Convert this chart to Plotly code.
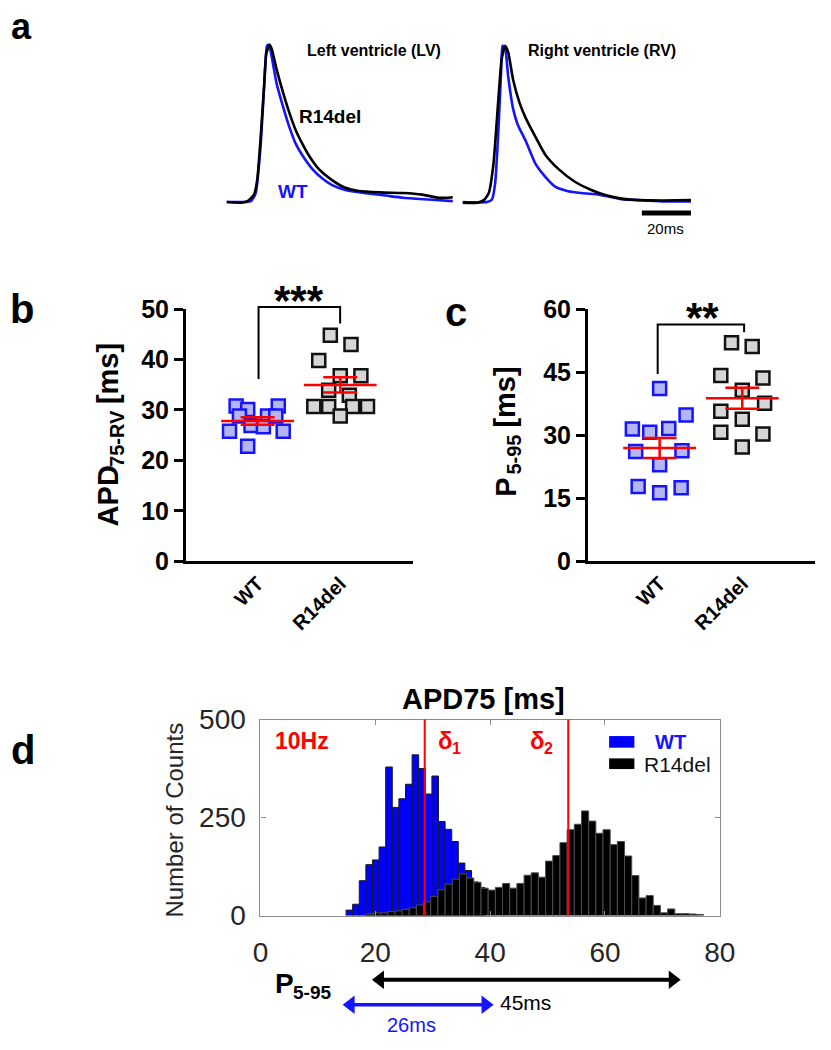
import numpy as np
import plotly.graph_objects as go

W, H = 831, 1050
F = "Liberation Sans"
BLUE = "#1414ff"


def px(x):
    return x / W


def py(y):
    return 1 - y / H


# ---------------- Panel a: optical action potentials (time ms, normalised amplitude)
lv_t_wt = [0, 9.9, 11.9, 13.8, 15.4, 16.5, 17.3, 18.4, 20.4, 23.1, 25.7, 28.3, 31.0, 34.9, 38.9, 42.8, 48.1, 56.0, 63.9, 71.8, 82.3, 92.2]
lv_v_wt = [0, 0.006, 0.057, 0.34, 0.75, 0.99, 0.996, 0.92, 0.75, 0.60, 0.47, 0.365, 0.293, 0.21, 0.15, 0.109, 0.078, 0.057, 0.043, 0.027, 0.016, 0.006]
lv_t_r14 = [0, 5.9, 8.6, 11.2, 12.5, 13.8, 15.2, 16.2, 17.5, 18.4, 20.4, 23.1, 25.7, 28.3, 31.0, 33.6, 37.5, 42.8, 48.1, 53.4, 62.6, 71.8, 79.7, 86.3, 89.6, 92.2]
lv_v_r14 = [0, -0.004, 0.006, 0.047, 0.14, 0.385, 0.71, 0.94, 0.996, 0.97, 0.84, 0.69, 0.56, 0.45, 0.365, 0.293, 0.21, 0.14, 0.092, 0.072, 0.061, 0.057, 0.047, 0.027, 0.027, 0.03]
rv_t_wt = [0, 10.0, 12.0, 13.3, 14.6, 15.7, 16.3, 17.3, 18.6, 20.6, 22.5, 25.8, 29.8, 33.7, 37.7, 43.0, 48.2, 53.5, 58.8, 64.0, 71.9, 81.2, 93.0]
rv_v_wt = [0, 0, 0.016, 0.12, 0.45, 0.82, 0.99, 0.98, 0.795, 0.59, 0.49, 0.385, 0.24, 0.16, 0.098, 0.068, 0.057, 0.051, 0.037, 0.02, 0.012, 0.004, 0.004]
rv_t_r14 = [0, 6.1, 8.7, 10.7, 12.6, 14.6, 15.9, 17.3, 18.6, 20.6, 23.2, 25.8, 29.8, 33.7, 39.0, 45.6, 52.2, 58.8, 65.3, 71.9, 81.2, 93.0]
rv_v_r14 = [-0.004, -0.004, 0.012, 0.057, 0.24, 0.65, 0.90, 0.99, 0.95, 0.775, 0.63, 0.53, 0.41, 0.30, 0.21, 0.13, 0.078, 0.041, 0.02, 0.012, 0.01, 0.012]
scale_bar_ms = 20

# ---------------- Panel b: APD75-RV [ms]
groups = ["WT", "R14del"]
apd_wt = [30.8, 30.1, 30.8, 28.8, 28.8, 26.9, 26.7, 25.8, 25.8, 22.8, 28.8]
apd_r14 = [44.8, 43.0, 39.8, 36.8, 36.8, 33.9, 32.9, 30.7, 30.7, 30.7, 30.7, 28.8]
# ---------------- Panel c: P5-95 [ms]
p_wt = [41.1, 34.8, 31.5, 30.7, 31.6, 26.1, 26.3, 23.0, 17.8, 16.3, 17.5]
p_r14 = [52.0, 51.1, 44.2, 43.6, 40.7, 37.6, 35.7, 33.8, 30.7, 30.3, 27.2]
# horizontal scatter offsets (layout only)
jit_apd_wt = [-0.26, -0.12, 0.25, -0.22, 0.12, -0.08, 0.07, -0.34, 0.31, -0.12, 0.22]
jit_apd_r14 = [-0.12, 0.13, -0.26, 0.0, 0.25, -0.14, 0.11, -0.32, -0.14, 0.15, 0.33, 0.0]
jit_p_wt = [0.0, 0.32, -0.33, -0.12, 0.11, -0.29, 0.27, 0.0, -0.26, 0.0, 0.26]
jit_p_r14 = [-0.13, 0.12, -0.26, 0.25, 0.0, 0.27, -0.26, 0.0, -0.26, 0.25, 0.0]

# ---------------- Panel d: APD75 histogram
wt_bin_centers = [15.48, 16.63, 17.78, 18.93, 20.08, 21.23, 22.38, 23.53, 24.68, 25.83, 26.98,
                  28.13, 29.28, 30.43, 31.58, 32.73, 33.88, 35.03, 36.18, 37.33, 38.48]
wt_counts = [14, 29, 89, 130, 142, 175, 379, 276, 298, 335, 410, 375, 310, 356, 240, 220, 189, 134, 115, 86, 72]
r14_bin_centers = [19.03, 20.28, 21.53, 22.78, 24.03, 25.28, 26.53, 27.78, 29.03, 30.28, 31.53, 32.78,
                   34.03, 35.28, 36.53, 37.78, 39.03, 40.28, 41.53, 42.78, 44.03, 45.28, 46.53, 47.78,
                   49.03, 50.28, 51.53, 52.78, 54.03, 55.28, 56.53, 57.78, 59.03, 60.28, 61.53, 62.78,
                   64.03, 65.28, 66.53, 67.78, 69.03, 70.28, 71.53, 72.78, 74.03, 75.28, 76.53]
r14_counts = [4, 7, 7, 10, 12, 16, 20, 27, 35, 49, 66, 80, 93, 106, 96, 85, 70, 65, 72, 82, 70, 82, 103, 109,
              98, 139, 153, 186, 219, 233, 267, 241, 210, 219, 181, 189, 152, 102, 45, 51, 26, 7, 17, 5, 5, 4, 3]
wt_bin_width = 1.15
r14_bin_width = 1.25
delta_lines = [28.6, 53.6]
delta_subs = ["1", "2"]
p595_wt = [15.7, 39.2]
p595_r14 = [20.8, 71.8]
p595_labels = ["26ms", "45ms"]

fig = go.Figure()

# ---- panel a traces
for t, v, ax_x, ax_y, col in [
    (lv_t_wt, lv_v_wt, "x", "y", BLUE), (lv_t_r14, lv_v_r14, "x", "y", "black"),
    (rv_t_wt, rv_v_wt, "x2", "y2", BLUE), (rv_t_r14, rv_v_r14, "x2", "y2", "black")]:
    fig.add_trace(go.Scatter(x=t, y=v, mode="lines", xaxis=ax_x, yaxis=ax_y,
                             line=dict(color=col, width=2.6, shape="spline", smoothing=0.5)))


# ---- panels b & c
def scatter_panel(vals_wt, vals_r14, jw, jr, xa, ya):
    fig.add_trace(go.Scatter(x=[1 + j for j in jw], y=vals_wt, mode="markers", xaxis=xa, yaxis=ya,
                             cliponaxis=False,
                             marker=dict(symbol="square", size=13, color="#b3b6f2",
                                         line=dict(color=BLUE, width=2.5))))
    fig.add_trace(go.Scatter(x=[2 + j for j in jr], y=vals_r14, mode="markers", xaxis=xa, yaxis=ya,
                             cliponaxis=False,
                             marker=dict(symbol="square", size=13, color="#d6d6d6",
                                         line=dict(color="#111111", width=2.5))))
    for xpos, vals in [(1, vals_wt), (2, vals_r14)]:
        arr = np.array(vals)
        m = arr.mean()
        sem = arr.std(ddof=1) / np.sqrt(len(arr))
        fig.add_trace(go.Scatter(x=[xpos], y=[m], mode="markers", xaxis=xa, yaxis=ya, cliponaxis=False,
                                 marker=dict(symbol="line-ew", size=52, color="red",
                                             line=dict(color="red", width=2.5)),
                                 error_y=dict(type="data", array=[sem], color="red", thickness=2.5, width=17)))


scatter_panel(apd_wt, apd_r14, jit_apd_wt, jit_apd_r14, "x3", "y3")
scatter_panel(p_wt, p_r14, jit_p_wt, jit_p_r14, "x4", "y4")

# ---- panel d histogram
fig.add_trace(go.Bar(x=wt_bin_centers, y=wt_counts, width=wt_bin_width, xaxis="x5", yaxis="y5",
                     marker=dict(color="#0000ff", line=dict(color="#1a1a1a", width=1))))
fig.add_trace(go.Bar(x=r14_bin_centers, y=r14_counts, width=r14_bin_width, xaxis="x5", yaxis="y5",
                     marker=dict(color="#000000", line=dict(color="#4d4d4d", width=1))))

# ---- P5-95 double arrows (own hidden axis sharing the histogram x scale)
for rng, yv, col, w in [(p595_r14, 0.8, "black", 4), (p595_wt, 0.43, BLUE, 3.5)]:
    fig.add_trace(go.Scatter(x=rng, y=[yv, yv], mode="lines+markers", xaxis="x6", yaxis="y6",
                             cliponaxis=False, line=dict(color=col, width=w),
                             marker=dict(symbol=["triangle-left", "triangle-right"], size=16, color=col)))

shapes = []
annotations = []

# scale bar
shapes.append(dict(type="line", xref="x2", yref="y2", x0=93 - scale_bar_ms, x1=93, y0=-0.07, y1=-0.07,
                   line=dict(color="black", width=5)))

# delta lines
for d in delta_lines:
    shapes.append(dict(type="line", xref="x5", yref="y5 domain", x0=d, x1=d, y0=0, y1=1,
                       line=dict(color="red", width=2)))

# significance brackets (pixel positions)
for (xl, yl, xr, yr, ytop) in [(258, 375, 342, 318, 301), (669, 370, 758, 327, 319)]:
    shapes.append(dict(type="path", xref="paper", yref="paper",
                       path=f"M {px(xl)},{py(yl)} L {px(xl)},{py(ytop)} L {px(xr)},{py(ytop)} L {px(xr)},{py(yr)}",
                       line=dict(color="black", width=2)))

# legend patches in d
shapes.append(dict(type="rect", xref="paper", yref="paper", x0=px(619), x1=px(645), y0=py(755), y1=py(743),
                   fillcolor="#0000ff", line=dict(width=0)))
shapes.append(dict(type="rect", xref="paper", yref="paper", x0=px(619), x1=px(645), y0=py(777), y1=py(766),
                   fillcolor="#000000", line=dict(width=0)))


def txt(x, y, text, size, color="black", bold=False, angle=0, xanchor="center"):
    annotations.append(dict(x=px(x), y=py(y), xref="paper", yref="paper", text=text, showarrow=False,
                            xanchor=xanchor, yanchor="middle", textangle=angle,
                            font=dict(family=F, size=size, color=color, weight="bold" if bold else "normal")))


# panel letters
txt(14, 12, "a", 36, bold=True)
txt(14, 303, "b", 40, bold=True)
txt(461, 306, "c", 40, bold=True)
txt(15, 757, "d", 40, bold=True)

# panel a texts
txt(377, 37, "Left ventricle (LV)", 16, bold=True)
txt(612, 37, "Right ventricle (RV)", 16, bold=True)
txt(332, 105, groups[1], 19, bold=True)
txt(293, 182, groups[0], 19, color=BLUE, bold=True)
txt(677, 220, f"{scale_bar_ms}ms", 15)

# panel b/c texts
txt(300, 294, "***", 42, bold=True)
txt(715, 312, "**", 42, bold=True)
# y titles built from pieces (main text + subscript)
txt(103, 496, "APD", 29, bold=True, angle=-90)
txt(112, 436, "75-RV", 20, bold=True, angle=-90)
txt(103, 370, "[ms]", 29, bold=True, angle=-90)
txt(512, 487, "P", 29, bold=True, angle=-90)
txt(521, 453, "5-95", 20, bold=True, angle=-90)
txt(512, 394, "[ms]", 29, bold=True, angle=-90)

# panel d texts
txt(490, 705, "APD75 [ms]", 29, bold=True)
txt(171, 830, "Number of Counts", 24, color="#262626", angle=-90)
txt(303, 748, "10Hz", 23, color="red", bold=True)
txt(450, 748, "δ", 24, color="red", bold=True)
txt(462, 756, delta_subs[0], 16, color="red", bold=True)
txt(545, 748, "δ", 24, color="red", bold=True)
txt(557, 756, delta_subs[1], 16, color="red", bold=True)
txt(682, 749, groups[0], 20, color=BLUE, bold=True)
txt(653, 772, groups[1], 21, color="#111111", xanchor="left")
txt(285, 998, "P", 28, bold=True)
txt(313, 1007, "5-95", 19, bold=True)
txt(533, 1018, p595_labels[1], 21)
txt(415, 1041, p595_labels[0], 20, color=BLUE)

hidden = dict(visible=False, showgrid=False, zeroline=False)
ya_dom = [py(209), py(21.9)]

bc_x = dict(range=[0.13, 2.88], showline=True, linecolor="black", linewidth=2.5, tickvals=[1, 2],
            ticktext=groups, tickangle=-45, ticks="", showgrid=False, zeroline=False,
            tickfont=dict(family=F, size=20, color="black", weight="bold"))
bc_y = dict(showline=True, linecolor="black", linewidth=2.5, ticks="outside", ticklen=9, tickwidth=2.5,
            tickcolor="black", showgrid=False, zeroline=False,
            tickfont=dict(family=F, size=25, color="black", weight="bold"))

fig.update_layout(
    width=W, height=H, autosize=False, margin=dict(l=0, r=0, t=0, b=0, pad=0),
    paper_bgcolor="white", plot_bgcolor="white", showlegend=False, barmode="overlay", hovermode=False,
    xaxis=dict(domain=[px(225), px(458)], range=[0, 92.1], anchor="y", **hidden),
    yaxis=dict(domain=ya_dom, range=[-0.1, 1.05], anchor="x", **hidden),
    xaxis2=dict(domain=[px(468), px(703.3)], range=[0, 93], anchor="y2", **hidden),
    yaxis2=dict(domain=ya_dom, range=[-0.1, 1.05], anchor="x2", **hidden),
    xaxis3=dict(domain=[px(183), px(417)], anchor="y3", **bc_x),
    yaxis3=dict(domain=[py(563), py(303)], range=[0, 50], tickvals=[0, 10, 20, 30, 40, 50], anchor="x3", **bc_y),
    xaxis4=dict(domain=[px(597), 1.0], anchor="y4", **bc_x),
    yaxis4=dict(domain=[py(563), py(303)], range=[0, 60], tickvals=[0, 15, 30, 45, 60], anchor="x4", **bc_y),
    xaxis5=dict(domain=[px(260), px(733)], range=[0, 80], anchor="y5", showline=True, mirror="ticks",
                linecolor="#8c8c8c", linewidth=1.2, ticks="inside", ticklen=5, tickcolor="#8c8c8c",
                tickvals=[0, 20, 40, 60, 80], showgrid=False, zeroline=False, ticklabelstandoff=12,
                tickfont=dict(family=F, size=28, color="#262626")),
    yaxis5=dict(domain=[py(928), py(726)], range=[0, 500], anchor="x5", showline=True, mirror="ticks",
                linecolor="#8c8c8c", linewidth=1.2, ticks="inside", ticklen=5, tickcolor="#8c8c8c",
                tickvals=[0, 250, 500], showgrid=False, zeroline=False, ticklabelstandoff=8,
                tickfont=dict(family=F, size=28, color="#262626")),
    xaxis6=dict(domain=[px(260), px(733)], range=[0, 80], anchor="y6", **hidden),
    yaxis6=dict(domain=[py(1050), py(980)], range=[0, 1], anchor="x6", **hidden),
    shapes=shapes, annotations=annotations,
)

fig.write_html("out.html", config={"displayModeBar": False},
               post_script="document.body.style.margin='0';document.body.style.overflow='hidden';")
